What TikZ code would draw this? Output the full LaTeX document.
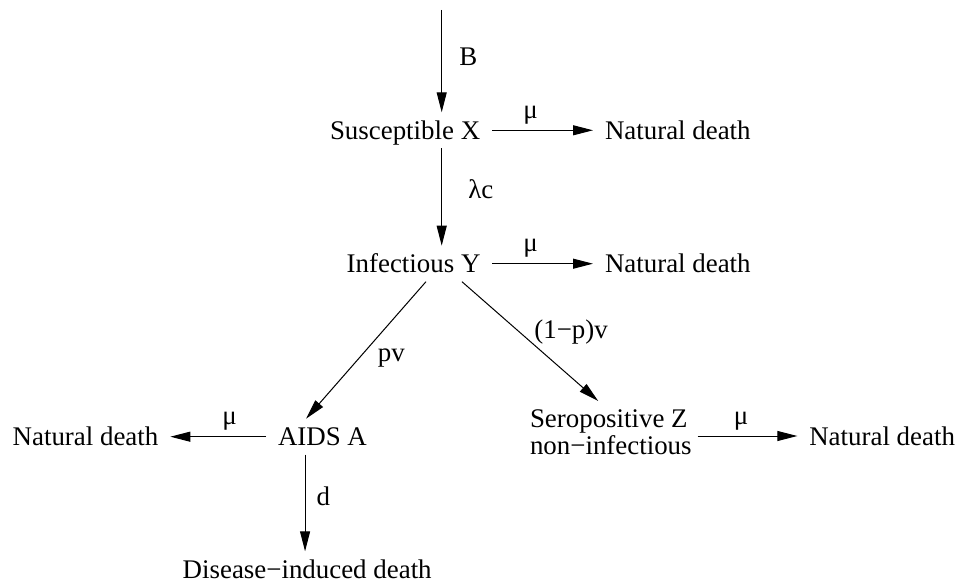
\documentclass[tikz,border=0pt]{standalone}
\usepackage{fontspec}
\setmainfont{Liberation Serif}
\usetikzlibrary{positioning, arrows.meta, calc}

\begin{document}
\begin{tikzpicture}[
    x=0.5pt, y=-0.5pt,
    every node/.style={inner xsep=6pt, inner ysep=4.5pt, outer sep=0pt, font=\fontsize{13.45pt}{11.2pt}\selectfont},
    state/.style={anchor=base west, text height=9pt, text depth=0pt},
    rate/.style={inner sep=0pt},
    arrow/.style={-{Triangle[length=10pt, width=5pt]}, black, line width=0.5pt}
]
\useasboundingbox (0,0) rectangle (958,582);

% Inflow
\coordinate (in) at (441.7,10);

% Compartments
\node[state] (X) at (318,139.3) {Susceptible X};
\node[state] (Y) at (334.7,272.7) {Infectious Y};
\node[state] (A) at (266,445.7) {AIDS A};
\node[anchor=north west, align=left] (Z) at (518,401) {Seropositive Z\\non−infectious};

% Deaths
\node[state] (ndX) at (593,139.3) {Natural death};
\node[state] (ndY) at (593,272.7) {Natural death};
\node[state] (ndA) at (0.7,445.7) {Natural death};
\node[state] (ndZ) at (797.3,445) {Natural death};
\node[state] (D) at (170.7,578.3) {Disease−induced death};

\coordinate (dcol) at ([xshift=-8.7pt]A.south);

% Vertical flows
\draw[arrow] (in) -- node[rate, right=8.8pt, pos=0.46] {B} (in |- X.north);
\draw[arrow] (X.south -| in) -- node[rate, right=13.3pt, pos=0.42] {λc} (Y.north -| in);
\draw[arrow] (dcol) -- node[rate, right=5.8pt, pos=0.43] {d} (dcol |- D.north);

% Progression from Y
\draw[arrow] ([xshift=6.2pt]Y.south) -- node[rate, right=9.5pt, pos=0.56] {pv} ([xshift=-8.2pt]A.north);
\draw[arrow] ([xshift=24.2pt]Y.south) -- node[rate, right=7.6pt, pos=0.42] {(1−p)v} ([xshift=-6.3pt]Z.north);

% Natural deaths
\draw[arrow] (X.east) -- node[rate, above=3pt, pos=0.38] {μ} (ndX.west);
\draw[arrow] (Y.east) -- node[rate, above=3pt, pos=0.38] {μ} (ndY.west);
\draw[arrow] (A.west) -- node[rate, above=3pt, pos=0.38] {μ} (ndA.east);
\draw[arrow, shorten <=-3pt] (Z.east |- ndZ.west) -- node[rate, above=3pt, pos=0.4] {μ} (ndZ.west);

\end{tikzpicture}
\end{document}
